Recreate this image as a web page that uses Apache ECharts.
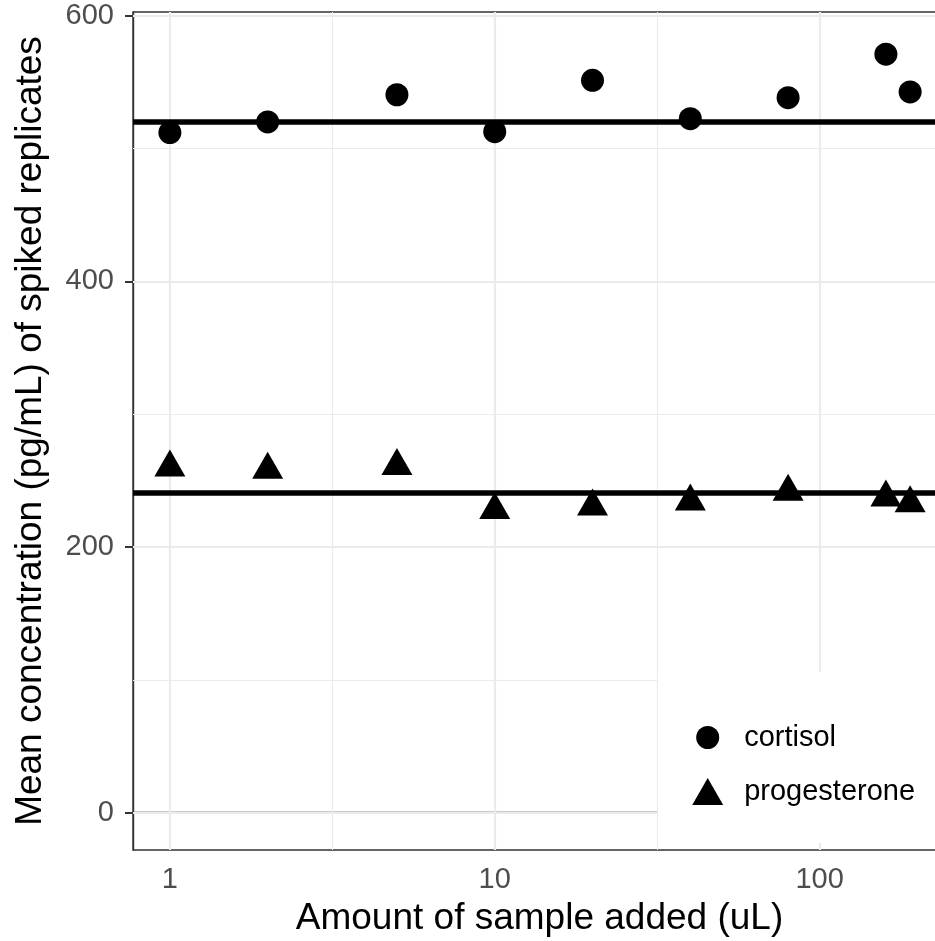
<!DOCTYPE html>
<html>
<head>
<meta charset="utf-8">
<script src="https://cdn.jsdelivr.net/npm/echarts@6/dist/echarts.min.js"></script>
<style>
html,body{margin:0;padding:0;background:#fff;}
#chart{width:935px;height:941px;}
</style>
</head>
<body>
<div id="chart"></div>
<script>
// ---- data ----
var sampleVolumes = [1, 2, 5, 10, 20, 40, 80, 160, 190];
var cortisol = [512, 520, 540.5, 512.7, 551.4, 522.5, 538.3, 571, 542.6];
var progesterone = [259.8, 258.1, 261, 227.9, 230.5, 234.2, 241.7, 237.2, 233];
var referenceLines = [520, 240.5];
var xTicks = [1, 10, 100];
var xMinorGrid = [3.1623, 31.623];
var yTicks = [0, 200, 400, 600];
var yMinorGrid = [100, 300, 500];
var seriesNames = ['cortisol', 'progesterone'];

function pairs(xs, ys) { return xs.map(function (x, i) { return [x, ys[i]]; }); }

var gridMajor = { color: '#EBEBEB', width: 2.2, type: 'solid' };
var gridMinor = { color: '#EBEBEB', width: 1.1, type: 'solid' };
var gridLines = [];
xTicks.forEach(function (v) { gridLines.push({ xAxis: v, lineStyle: gridMajor }); });
xMinorGrid.forEach(function (v) { gridLines.push({ xAxis: v, lineStyle: gridMinor }); });
yTicks.forEach(function (v) { gridLines.push({ yAxis: v, lineStyle: gridMajor }); });
yMinorGrid.forEach(function (v) { gridLines.push({ yAxis: v, lineStyle: gridMinor }); });

var chart = echarts.init(document.getElementById('chart'), null, { renderer: 'canvas' });
var font = '"Liberation Sans", Arial, Helvetica, sans-serif';

chart.setOption({
  animation: false,
  backgroundColor: '#ffffff',
  textStyle: { fontFamily: font },
  grid: {
    left: 133, top: 12, width: 813, height: 838,
    outerBoundsMode: 'none',
    show: true, borderColor: '#333333', borderWidth: 1.4, backgroundColor: 'transparent',
    containLabel: false
  },
  xAxis: {
    type: 'log', logBase: 10, min: 0.77, max: 245,
    name: 'Amount of sample added (uL)', nameLocation: 'middle', nameGap: 50,
    nameTextStyle: { fontSize: 37, color: '#000', fontFamily: font },
    axisLine: { show: true, lineStyle: { color: '#333333', width: 1.4 } },
    axisTick: { show: true, length: 8, lineStyle: { color: '#333333', width: 2 }, customValues: xTicks },
    axisLabel: { fontSize: 29, color: '#4D4D4D', margin: 15, fontFamily: font, customValues: xTicks },
    splitLine: { show: false }, minorSplitLine: { show: false }, minorTick: { show: false }
  },
  yAxis: {
    type: 'value', min: -28.1, max: 602.8,
    name: 'Mean concentration (pg/mL) of spiked replicates', nameLocation: 'middle', nameGap: 84,
    nameRotate: 90,
    nameTextStyle: { fontSize: 37, color: '#000', fontFamily: font },
    axisLine: { show: true, lineStyle: { color: '#333333', width: 1.4 } },
    axisTick: { show: true, length: 8, lineStyle: { color: '#333333', width: 2 }, customValues: yTicks },
    axisLabel: { fontSize: 29, color: '#4D4D4D', margin: 19, fontFamily: font, customValues: yTicks },
    splitLine: { show: false }, minorSplitLine: { show: false }
  },
  graphic: [{
    type: 'rect', z: 2, silent: true,
    shape: { x: 658, y: 672, width: 300, height: 171 },
    style: { fill: '#ffffff' }
  }],
  legend: [{
    data: [{ name: seriesNames[0], icon: 'circle' }],
    left: 696.2, top: 723, padding: 0, z: 10,
    itemWidth: 23, itemHeight: 23,
    textStyle: { fontSize: 29, color: '#000', fontFamily: font, padding: [0, 0, 0, 20] }
  }, {
    data: [{ name: seriesNames[1], icon: 'triangle' }],
    left: 692.2, top: 777, padding: 0, z: 10,
    itemWidth: 31, itemHeight: 27,
    textStyle: { fontSize: 29, color: '#000', fontFamily: font, padding: [0, 0, 0, 16] }
  }],
  series: [
    {
      name: 'grid', type: 'line', data: [], z: 1, silent: true,
      markLine: { silent: true, symbol: ['none', 'none'], label: { show: false }, z: 1, data: gridLines }
    },
    {
      name: seriesNames[0], type: 'scatter', z: 5,
      symbol: 'circle', symbolSize: 23,
      itemStyle: { color: '#000000', opacity: 1 },
      data: pairs(sampleVolumes, cortisol),
      markLine: {
        silent: true, symbol: ['none', 'none'], label: { show: false },
        lineStyle: { color: '#000', width: 5.5, type: 'solid', opacity: 1 },
        data: [{ yAxis: referenceLines[0] }]
      }
    },
    {
      name: seriesNames[1], type: 'scatter', z: 5,
      symbol: 'triangle', symbolSize: [31, 27], symbolOffset: [0, -4.5],
      itemStyle: { color: '#000000', opacity: 1 },
      data: pairs(sampleVolumes, progesterone),
      markLine: {
        silent: true, symbol: ['none', 'none'], label: { show: false },
        lineStyle: { color: '#000', width: 5.5, type: 'solid', opacity: 1 },
        data: [{ yAxis: referenceLines[1] }]
      }
    }
  ]
});
</script>
</body>
</html>
